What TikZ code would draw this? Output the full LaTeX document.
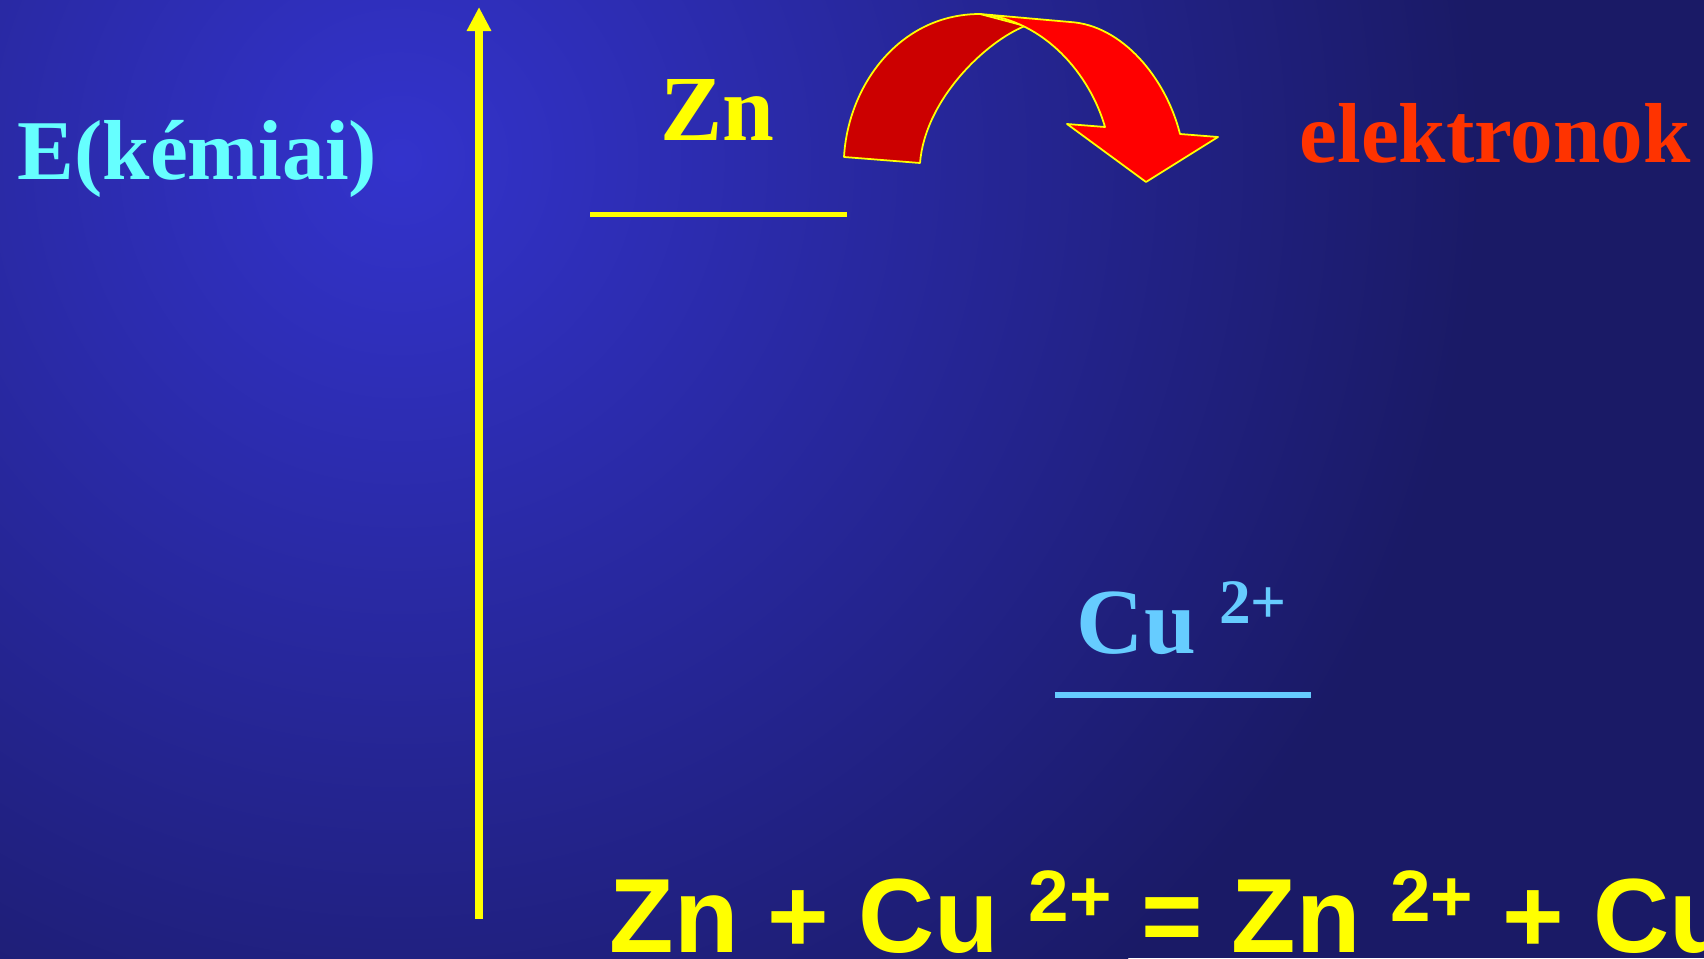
\documentclass[tikz,border=0pt]{standalone}
\usepackage{fontspec}
\setmainfont{Liberation Serif}
\setsansfont{Liberation Sans}
\usetikzlibrary{positioning, arrows.meta, backgrounds}

\definecolor{bgdark}{HTML}{1A1A66}
\definecolor{bglight}{HTML}{3333CC}
\definecolor{headcyan}{HTML}{66FFFF}
\definecolor{ionblue}{HTML}{66CCFF}
\definecolor{electronred}{HTML}{FF3300}
\definecolor{ribbonback}{HTML}{CC0000}
\definecolor{ribbonfront}{HTML}{FF0000}
\definecolor{levelyellow}{HTML}{FFFF00}

\newcommand{\ioncharge}[2]{\raisebox{#1}{\fontsize{#2}{#2}\selectfont 2+}}

\begin{document}
\begin{tikzpicture}[
    x=0.01cm, y=-0.01cm,
    heading/.style={anchor=base west, inner sep=0pt, font=\bfseries\fontsize{24.2}{24.2}\selectfont},
    species/.style={anchor=base west, inner sep=0pt, font=\bfseries\fontsize{26.5}{26.5}\selectfont},
    equation/.style={anchor=base west, inner sep=0pt, text=levelyellow, font=\sffamily\bfseries\fontsize{30}{30}\selectfont},
    energyaxis/.style={-{Triangle[length=0.24cm, width=0.23cm]}, line width=2.2pt, levelyellow},
    level/.style={line width=1.6pt},
    ribbon/.style={draw=levelyellow, line width=0.5pt, line join=round},
]

    \useasboundingbox (0,0) rectangle (1704,958);
    \clip (0,0) rectangle (1704,958);

%% BACKGROUND
    \fill[bgdark] (0,0) rectangle (1704,958);
    \shade[inner color=bglight, outer color=bgdark] (400,160) circle (10.8cm);

%% NODES
    % energy axis
    \coordinate (axis_bottom) at (479,919);
    \coordinate (axis_top) at (479,7);
    \node[heading, text=headcyan] (energy) at (17,180) {E(kémiai)};

    % Zn level
    \node[species, text=levelyellow] (zn) at (660,141) {Zn};
    \coordinate (zn_left) at (590,214.5);
    \coordinate (zn_right) at (847,214.5);

    % Cu2+ level
    \node[species, text=ionblue] (cu) at (1076,653) {Cu \ioncharge{8.5pt}{18}};
    \coordinate (cu_left) at (1055,695);
    \coordinate (cu_right) at (1311,695);

    % electrons
    \node[heading, text=electronred] (electrons) at (1299,163) {elektronok};

    % overall reaction
    \node[equation] (reaction) at (609,952) {Zn + Cu \ioncharge{8.8pt}{20.7} = Zn \ioncharge{8.8pt}{20.7} + Cu};

%% CONNECTIONS
    % axis
    \draw[energyaxis] (axis_bottom) -- (axis_top);

    % levels
    \draw[level, levelyellow] (zn_left) -- (zn_right);
    \draw[level, ionblue] (cu_left) -- (cu_right);

    % electron transfer (curved ribbon arrow)
    \draw[ribbon, fill=ribbonback] (844,157) .. controls (848,85) and (900,14) .. (980,14)
        -- (1025,26) .. controls (985,42) and (925,100) .. (920,163) -- cycle;
    \draw[ribbon, fill=ribbonfront] (980,14) -- (1070,22)
        .. controls (1122,25) and (1166,78) .. (1180,134)
        -- (1218,137) -- (1146,182) -- (1067,124) -- (1105,127)
        .. controls (1090,75) and (1045,20) .. cycle;

\end{tikzpicture}
\end{document}
